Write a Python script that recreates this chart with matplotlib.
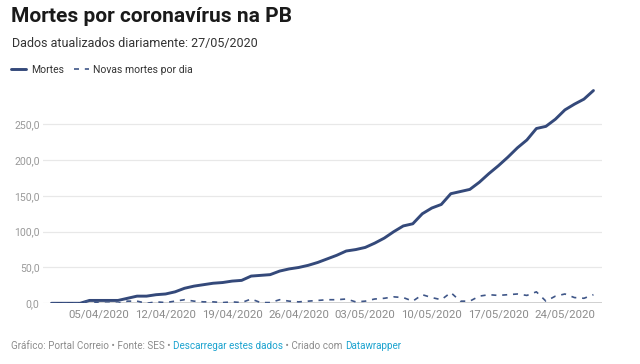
import numpy as np
import pandas as pd
import matplotlib
matplotlib.use("Agg")
import matplotlib.pyplot as plt
import matplotlib.dates as mdates
from matplotlib.ticker import FuncFormatter

plt.rcParams['font.family'] = ['Roboto', 'DejaVu Sans']

# daily data, 31/03/2020 .. 27/05/2020
start_date = '2020-03-31'
mortes = [0, 0, 0, 0, 4, 4, 4, 4, 7, 10,
          10, 12, 13, 16, 21, 24, 26, 28, 29, 31,
          32, 38, 39, 40, 45, 48, 50, 53, 57, 62,
          67, 73, 75, 78, 84, 91, 100, 108, 111, 125,
          133, 138, 153, 156, 159, 169, 181, 192, 204, 217,
          228, 244, 247, 257, 270, 278, 285, 297]
novas = [0, 0, 0, 0, 4, 0, 0, 0, 3, 3,
         0, 2, 1, 3, 5, 3, 2, 2, 1, 2,
         1, 6, 1, 1, 5, 3, 2, 3, 4, 5,
         5, 6, 2, 3, 6, 7, 9, 8, 3, 12,
         8, 5, 15, 3, 3, 10, 12, 11, 12, 13,
         11, 16, 3, 10, 13, 8, 7, 12]
tick_dates = ['2020-04-05', '2020-04-12', '2020-04-19', '2020-04-26',
              '2020-05-03', '2020-05-10', '2020-05-17', '2020-05-24']
yticks = [0, 50, 100, 150, 200, 250]

dates = pd.date_range(start_date, periods=len(mortes))
navy = '#34497a'
grey = '#8c8c8c'
link = '#1ca3cf'

fig = plt.figure(figsize=(6.4, 3.64), dpi=100)
ax = fig.add_axes([43/640, 1-303.3/364, (602-43)/640, (303.3-88.4)/364])

ax.plot(dates, mortes, color=navy, lw=2.1, solid_capstyle='round', zorder=3, label='Mortes')
ax.plot(dates, novas, color='#3f5688', lw=1.2, ls=(0, (3, 3.5)), zorder=3, label='Novas mortes por dia')

x0 = mdates.date2num(dates[0]) - 0.89
x1 = mdates.date2num(dates[-1]) + 0.9
ax.set_xlim(x0, x1)
ax.set_ylim(0, 300)
ax.set_yticks(yticks)
ax.yaxis.set_major_formatter(FuncFormatter(lambda v, p: f'{v:.1f}'.replace('.', ',')))
ax.set_xticks(pd.to_datetime(tick_dates))
ax.xaxis.set_major_formatter(mdates.DateFormatter('%d/%m/%Y'))
ax.tick_params(length=0, labelsize=7.6, colors=grey)
ax.tick_params(axis='x', labelsize=8.2, pad=4.2)
ax.tick_params(axis='y', pad=2.5)
for lab in ax.get_yticklabels():
    lab.set_color('#999999')
ax.grid(axis='y', color='#e8e8e8', lw=0.9)
ax.set_axisbelow(True)
for s in ax.spines.values():
    s.set_visible(False)
base_start = (mdates.date2num(dates[0]) - x0) / (x1 - x0)
ax.axhline(0, xmin=base_start, xmax=1, color='#222222', lw=1.0, zorder=2)

fig.text(11/640, 1-22/364, 'Mortes por coronavírus na PB', fontsize=15,
         fontweight='bold', color='#1a1a1a', va='baseline')
fig.text(12/640, 1-47/364, 'Dados atualizados diariamente: 27/05/2020',
         fontsize=9.0, color='#333333', va='baseline')

fig.legend(loc='center left', bbox_to_anchor=(2/640, 1-70/364), ncol=2, frameon=False,
           fontsize=7.5, handlelength=1.4, handletextpad=0.45, columnspacing=1.0,
           labelcolor='#333333')

# footer with link-coloured pieces
pieces = [('Gráfico: Portal Correio • Fonte: SES • ', grey),
          ('Descarregar estes dados', link),
          (' • Criado com ', grey),
          ('Datawrapper', link)]
fig.canvas.draw()
r = fig.canvas.get_renderer()
xp = 11
for txt, c in pieces:
    t = fig.text(xp/640, 1-349/364, txt, fontsize=7.1, color=c, va='baseline')
    xp += t.get_window_extent(r).width

fig.savefig('out.png', dpi=100, facecolor='white')
